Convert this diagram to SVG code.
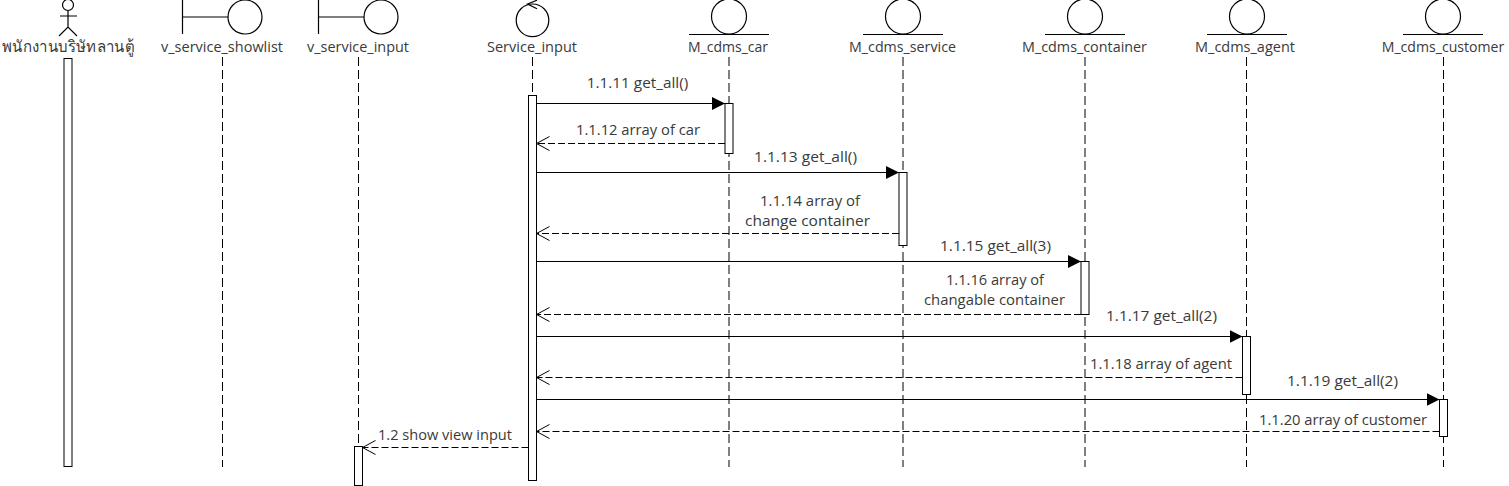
<svg xmlns="http://www.w3.org/2000/svg" width="1509" height="486" viewBox="0 0 1509 486">
<style>
text{font-family:"Open Sans","Noto Sans",sans-serif;font-size:14.5px;fill:#3a3a3a;text-anchor:middle}
.s{fill:none;stroke:#000;stroke-width:1.2}
.w{fill:#fff;stroke:#000;stroke-width:1}
.life{fill:none;stroke:#000;stroke-width:1;stroke-dasharray:9 4}
.call{fill:none;stroke:#000;stroke-width:1;marker-end:url(#solid)}
.ret{fill:none;stroke:#000;stroke-width:1;stroke-dasharray:7 3;marker-end:url(#open)}
</style>
<defs>
<marker id="solid" markerUnits="userSpaceOnUse" markerWidth="14" markerHeight="14" refX="13" refY="6.500" orient="auto"><path d="M0 0L13 6.500L0 13Z" fill="#000"/></marker>
<marker id="open" markerUnits="userSpaceOnUse" markerWidth="15" markerHeight="16" refX="13" refY="7" orient="auto"><path d="M0 0L13 7L0 14" fill="none" stroke="#000" stroke-width="1" stroke-dasharray="none"/></marker>
</defs>
<g id="lifelines">
<path class="life" d="M222.500 57V467"/>
<path class="life" d="M358.500 57V446"/>
<path class="life" d="M532.500 57V95"/>
<path class="life" d="M729 57V467"/>
<path class="life" d="M903 57V467"/>
<path class="life" d="M1085 57V467"/>
<path class="life" d="M1246.500 57V467"/>
<path class="life" d="M1443.500 57V467"/>
</g>
<g id="actor"><circle class="s" cx="68" cy="5" r="5.500"/><path class="s" d="M68 10.500V27M60 16H77M59 36L68 27L77 36"/><text x="68" y="52" style="font-size:16px" textLength="132" lengthAdjust="spacingAndGlyphs">พนักงานบริษัทลานตู้</text></g>
<g id="v_service_showlist"><path class="s" d="M182.500 0V34M182.500 17H228"/><circle class="s" cx="245" cy="17" r="17"/><text x="222" y="52" textLength="122" lengthAdjust="spacingAndGlyphs">v_service_showlist</text></g>
<g id="v_service_input"><path class="s" d="M318.500 0V34M318.500 17H364"/><circle class="s" cx="381" cy="17" r="17"/><text x="358" y="52" textLength="102" lengthAdjust="spacingAndGlyphs">v_service_input</text></g>
<g id="Service_input"><circle class="s" cx="532.500" cy="20.300" r="16.300"/><path class="s" d="M537 0.200L527.500 4L537 8.700"/><text x="532" y="52" textLength="90" lengthAdjust="spacingAndGlyphs">Service_input</text></g>
<g id="M_cdms_car"><circle class="s" cx="729" cy="16.500" r="17.500"/><path class="s" d="M689 34.500H769"/><text x="728" y="52" textLength="80" lengthAdjust="spacingAndGlyphs">M_cdms_car</text></g>
<g id="M_cdms_service"><circle class="s" cx="903" cy="16.500" r="17.500"/><path class="s" d="M863 34.500H943"/><text x="902.500" y="52" textLength="107" lengthAdjust="spacingAndGlyphs">M_cdms_service</text></g>
<g id="M_cdms_container"><circle class="s" cx="1085" cy="16.500" r="17.500"/><path class="s" d="M1045 34.500H1125"/><text x="1084.500" y="52" textLength="125" lengthAdjust="spacingAndGlyphs">M_cdms_container</text></g>
<g id="M_cdms_agent"><circle class="s" cx="1247" cy="16.500" r="17.500"/><path class="s" d="M1207 34.500H1287"/><text x="1245" y="52" textLength="100" lengthAdjust="spacingAndGlyphs">M_cdms_agent</text></g>
<g id="M_cdms_customer"><circle class="s" cx="1443" cy="16.500" r="17.500"/><path class="s" d="M1403 34.500H1483"/><text x="1443" y="52" textLength="122.500" lengthAdjust="spacingAndGlyphs">M_cdms_customer</text></g>
<g id="activations">
<rect class="w" x="64" y="58.500" width="8" height="408"/>
<rect class="w" x="528.500" y="95.500" width="8" height="385"/>
<rect class="w" x="725" y="103.500" width="8" height="50"/>
<rect class="w" x="899" y="172.500" width="8" height="73"/>
<rect class="w" x="1081" y="261.500" width="8" height="53"/>
<rect class="w" x="1242.500" y="336.500" width="8" height="58"/>
<rect class="w" x="1439.500" y="399.500" width="8" height="37"/>
<rect class="w" x="354.500" y="446.500" width="8" height="39"/>
</g>
<g id="connectors">
<path class="call" d="M536.500 103.500H725"/>
<path class="ret" d="M725 143.500H536.500"/>
<path class="call" d="M536.500 172.500H899"/>
<path class="ret" d="M899 233.500H536.500"/>
<path class="call" d="M536.500 261.500H1081"/>
<path class="ret" d="M1081 314.500H536.500"/>
<path class="call" d="M536.500 336.500H1242.500"/>
<path class="ret" d="M1242.500 377.500H536.500"/>
<path class="call" d="M536.500 399.500H1439.500"/>
<path class="ret" d="M1439.500 431.500H536.500"/>
<path class="ret" d="M528.500 447.500H362.500"/>
</g>
<g id="labels">
<text x="637.500" y="88" textLength="101.500" lengthAdjust="spacingAndGlyphs">1.1.11 get_all()</text>
<text x="638" y="135" textLength="124" lengthAdjust="spacingAndGlyphs">1.1.12 array of car</text>
<text x="805.500" y="162" textLength="103" lengthAdjust="spacingAndGlyphs">1.1.13 get_all()</text>
<text x="810" y="206" textLength="100" lengthAdjust="spacingAndGlyphs">1.1.14 array of</text>
<text x="807.500" y="226" textLength="125" lengthAdjust="spacingAndGlyphs">change container</text>
<text x="995.500" y="251" textLength="111" lengthAdjust="spacingAndGlyphs">1.1.15 get_all(3)</text>
<text x="995" y="285" textLength="98" lengthAdjust="spacingAndGlyphs">1.1.16 array of</text>
<text x="994.500" y="305" textLength="141" lengthAdjust="spacingAndGlyphs">changable container</text>
<text x="1161.500" y="321" textLength="111" lengthAdjust="spacingAndGlyphs">1.1.17 get_all(2)</text>
<text x="1161" y="369" textLength="142" lengthAdjust="spacingAndGlyphs">1.1.18 array of agent</text>
<text x="1342.500" y="386" textLength="111" lengthAdjust="spacingAndGlyphs">1.1.19 get_all(2)</text>
<text x="1343" y="425" textLength="168" lengthAdjust="spacingAndGlyphs">1.1.20 array of customer</text>
<text x="445" y="440" textLength="134" lengthAdjust="spacingAndGlyphs">1.2 show view input</text>
</g>
</svg>
